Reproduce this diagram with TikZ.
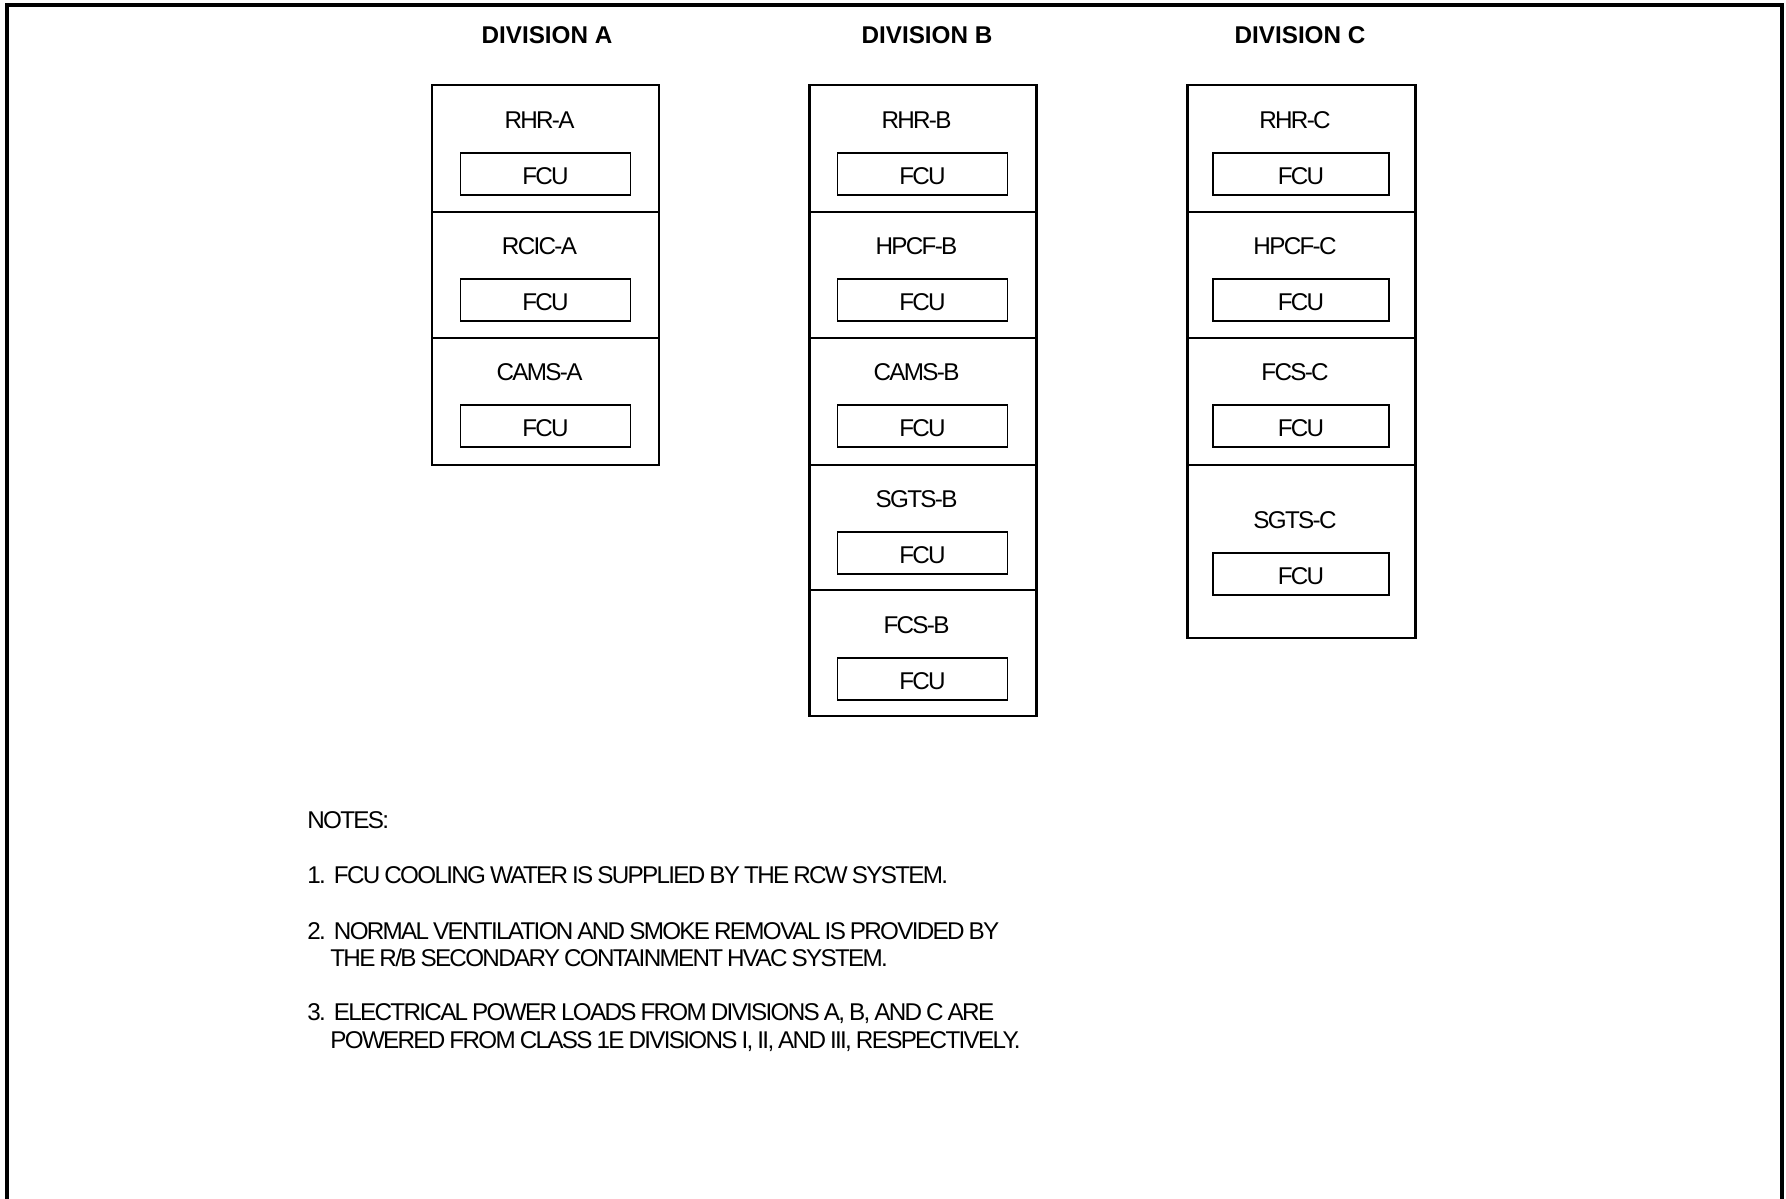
\documentclass[tikz,border=0pt]{standalone}
\usepackage{fontspec}
\setmainfont{Liberation Sans}
\newfontfamily\tightfont{Liberation Sans}[LetterSpace=-7, WordSpace=0.8]
\usepackage{tikz}
\usetikzlibrary{positioning}

\begin{document}
\begin{tikzpicture}[
  x=0.02cm, y=-0.02cm,
  every node/.style={font=\fontsize{13.8}{16}\selectfont\tightfont, inner sep=0pt},
  divhead/.style={font=\fontsize{13.8}{16}\selectfont\bfseries},
  divbox/.style={draw, line width=1.7pt},
  sepline/.style={line width=1.1pt},
  fcu/.style={draw, line width=0.8pt, minimum width=3.4cm, minimum height=0.84cm,
    text height=12.3pt, text depth=0pt},
  fcuwide/.style={fcu, minimum width=3.52cm},
  noteline/.style={anchor=base west},
]
  \useasboundingbox (0,0) rectangle (1786,1199);
  % sheet frame, open at the bottom
  \draw[line width=1.8pt] (7,1199) -- (7,5) -- (1782,5) -- (1782,1199);

  \node[divhead] (headA) at (547,35) {DIVISION A};
  \node[divhead] (headB) at (927,35) {DIVISION B};
  \node[divhead] (headC) at (1300,35) {DIVISION C};

  % division A
  \draw[divbox] (432,85) rectangle (659,465);
  \draw[sepline] (432,212) -- (659,212) (432,338) -- (659,338);
  \node (rhrA) at (539.5,120) {RHR-A};
  \node[fcu] (rhrAfcu) at (545.5,174) {FCU};
  \node (rcicA) at (539.5,246) {RCIC-A};
  \node[fcu] (rcicAfcu) at (545.5,300) {FCU};
  \node (camsA) at (539.5,372) {CAMS-A};
  \node[fcu] (camsAfcu) at (545.5,426) {FCU};

  % division B
  \draw[divbox] (809,85) rectangle (1036,716);
  \draw[sepline] (809,212) -- (1036,212) (809,338) -- (1036,338)
    (809,465) -- (1036,465) (809,590) -- (1036,590);
  \node (rhrB) at (916.5,120) {RHR-B};
  \node[fcu] (rhrBfcu) at (922.5,174) {FCU};
  \node (hpcfB) at (916.5,246) {HPCF-B};
  \node[fcu] (hpcfBfcu) at (922.5,300) {FCU};
  \node (camsB) at (916.5,372) {CAMS-B};
  \node[fcu] (camsBfcu) at (922.5,426) {FCU};
  \node (sgtsB) at (916.5,499) {SGTS-B};
  \node[fcu] (sgtsBfcu) at (922.5,553) {FCU};
  \node (fcsB) at (916.5,625) {FCS-B};
  \node[fcu] (fcsBfcu) at (922.5,679) {FCU};

  % division C
  \draw[divbox] (1187,85) rectangle (1415,638);
  \draw[sepline] (1187,212) -- (1415,212) (1187,338) -- (1415,338)
    (1187,465) -- (1415,465);
  \node (rhrC) at (1295,120) {RHR-C};
  \node[fcuwide] (rhrCfcu) at (1301,174) {FCU};
  \node (hpcfC) at (1295,246) {HPCF-C};
  \node[fcuwide] (hpcfCfcu) at (1301,300) {FCU};
  \node (fcsC) at (1295,372) {FCS-C};
  \node[fcuwide] (fcsCfcu) at (1301,426) {FCU};
  \node (sgtsC) at (1295,520) {SGTS-C};
  \node[fcuwide] (sgtsCfcu) at (1301,574) {FCU};

  % notes
  \node[noteline] (notes) at (307,828) {NOTES:};
  \node[noteline] (note1) at (307,883) {1.~~FCU COOLING WATER IS SUPPLIED BY THE RCW SYSTEM.};
  \node[noteline] (note2a) at (307,939) {2.~~NORMAL VENTILATION AND SMOKE REMOVAL IS PROVIDED BY};
  \node[noteline] (note2b) at (330,966) {THE R/B SECONDARY CONTAINMENT HVAC SYSTEM.};
  \node[noteline] (note3a) at (307,1020) {3.~~ELECTRICAL POWER LOADS FROM DIVISIONS A, B, AND C ARE};
  \node[noteline] (note3b) at (330,1048) {POWERED FROM CLASS 1E DIVISIONS I, II, AND III, RESPECTIVELY.};
\end{tikzpicture}
\end{document}
